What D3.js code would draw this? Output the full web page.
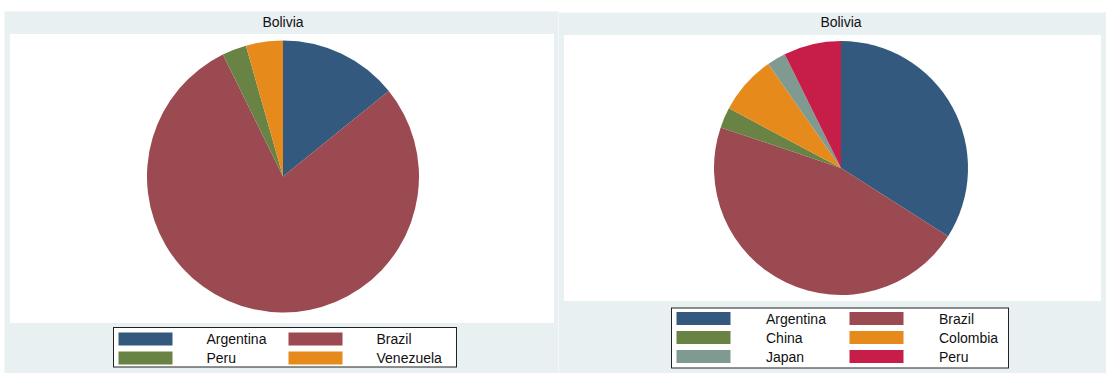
<!DOCTYPE html>
<html><head><meta charset="utf-8">
<script src="https://cdn.jsdelivr.net/npm/d3@7"></script>
<style>body{margin:0;background:#fff;}svg{display:block;font-family:"Liberation Sans",Arial,sans-serif;}</style>
</head><body>
<svg id="chart" width="1106" height="373"></svg>
<script>
const titleLeft = "Bolivia";
const catsLeft = ["Argentina", "Brazil", "Peru", "Venezuela"];
const valsLeft = [14.2, 78.6, 2.9, 4.4];
const colsLeft = ["#335a7e", "#9a4a50", "#688343", "#e68a1c"];

const titleRight = "Bolivia";
const catsRight = ["Argentina", "Brazil", "China", "Colombia", "Japan", "Peru"];
const valsRight = [34.0, 46.1, 2.6, 7.5, 2.4, 7.3];
const colsRight = ["#335a7e", "#9a4a50", "#688343", "#e68a1c", "#7f9b91", "#c61e48"];

const svg = d3.select("#chart");
const BG = "#e9f0f2";

function panel(cfg) {
  const g = svg.append("g");
  g.append("rect").attr("x", cfg.bx).attr("y", cfg.by).attr("width", cfg.bw).attr("height", cfg.bh).attr("fill", BG);
  g.append("rect").attr("x", cfg.px).attr("y", cfg.py).attr("width", cfg.pw).attr("height", cfg.ph).attr("fill", "#fff");
  g.append("text").attr("x", cfg.cx).attr("y", cfg.ty).attr("text-anchor", "middle")
    .attr("font-size", 14).attr("fill", "#111").text(cfg.title);
  const pie = d3.pie().sort(null).value(d => d.v);
  const arc = d3.arc().innerRadius(0).outerRadius(cfg.r);
  const data = cfg.cats.map((c, i) => ({c, v: cfg.vals[i]}));
  const color = d3.scaleOrdinal().domain(cfg.cats).range(cfg.cols);
  g.append("g").attr("transform", `translate(${cfg.cx},${cfg.cy})`)
    .selectAll("path").data(pie(data)).join("path")
    .attr("d", arc).attr("fill", d => color(d.data.c));
  // legend
  const L = cfg.leg;
  g.append("rect").attr("x", L.x).attr("y", L.y).attr("width", L.w).attr("height", L.h)
    .attr("fill", "#fff").attr("stroke", "#222").attr("stroke-width", 1);
  cfg.cats.forEach((c, i) => {
    const col = i % 2, row = Math.floor(i / 2);
    const sx = L.x + 5 + col * L.colW;
    const sy = L.y + L.top + row * L.rowH;
    g.append("rect").attr("x", sx).attr("y", sy).attr("width", 54).attr("height", 13).attr("fill", color(c));
    g.append("text").attr("x", L.x + L.tx + col * L.colW).attr("y", sy + 11.5)
      .attr("font-size", 14).attr("fill", "#111").text(c);
  });
}

panel({bx: 4.5, by: 11.5, bw: 554, bh: 362, px: 10, py: 34, pw: 544, ph: 289,
  cx: 283, cy: 176.5, r: 136, ty: 27, title: titleLeft,
  cats: catsLeft, vals: valsLeft, cols: colsLeft,
  leg: {x: 113.5, y: 327.5, w: 343, h: 39.5, top: 5, colW: 170, rowH: 19, tx: 93}});

panel({bx: 559, by: 12.5, bw: 547, bh: 361, px: 564, py: 35, pw: 537, ph: 266,
  cx: 841, cy: 168, r: 127, ty: 27, title: titleRight,
  cats: catsRight, vals: valsRight, cols: colsRight,
  leg: {x: 671.5, y: 308, w: 337, h: 60, top: 4, colW: 173, rowH: 19, tx: 94.5}});
</script>
</body></html>
